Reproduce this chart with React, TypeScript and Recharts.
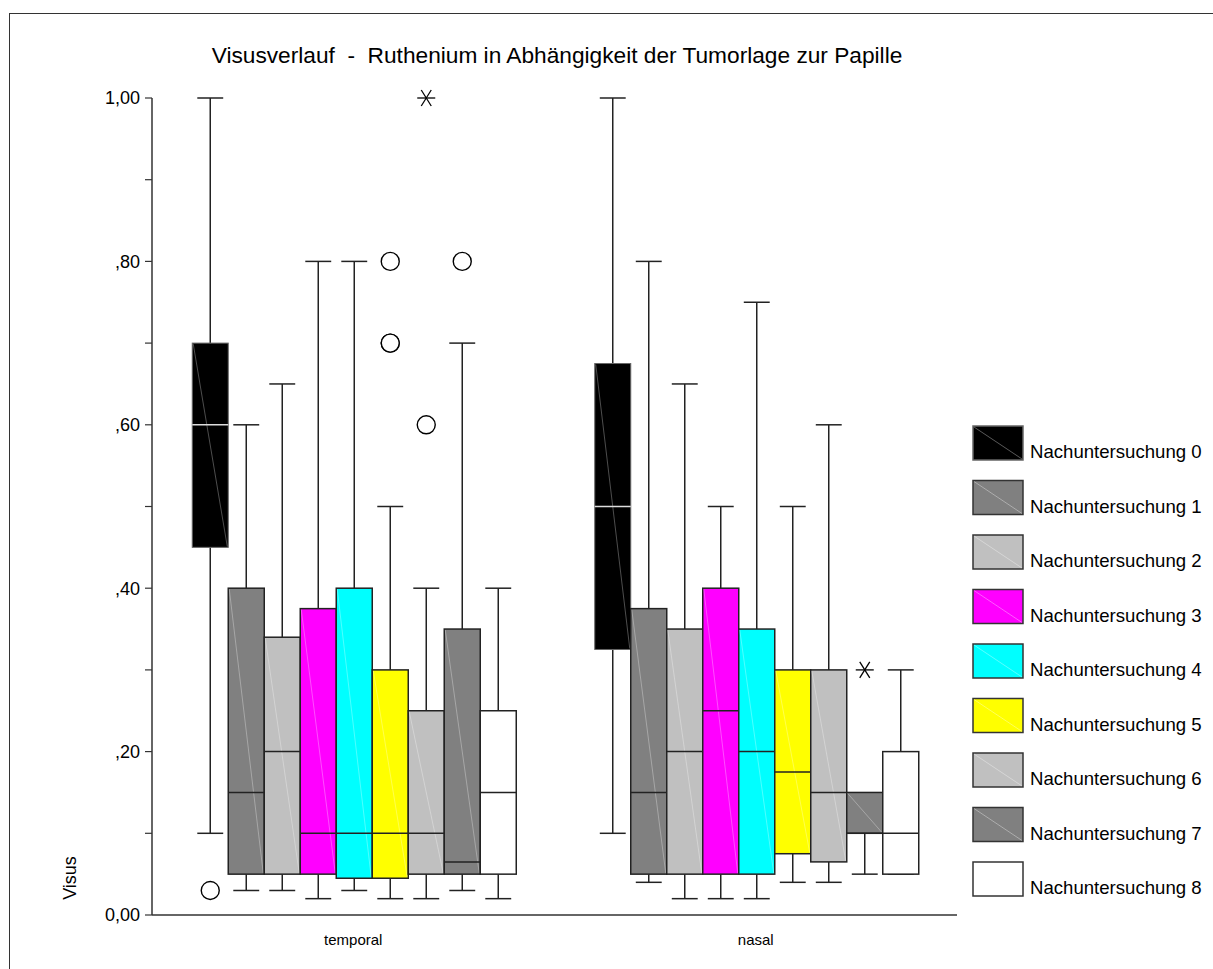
import { Bar, BarChart, Legend, XAxis, YAxis } from 'recharts'

const groups = ['temporal', 'nasal']

const seriesNames = [
	'Nachuntersuchung 0',
	'Nachuntersuchung 1',
	'Nachuntersuchung 2',
	'Nachuntersuchung 3',
	'Nachuntersuchung 4',
	'Nachuntersuchung 5',
	'Nachuntersuchung 6',
	'Nachuntersuchung 7',
	'Nachuntersuchung 8',
]

const seriesColors = [
	'#000000',
	'#808080',
	'#c0c0c0',
	'#ff00ff',
	'#00ffff',
	'#ffff00',
	'#c0c0c0',
	'#808080',
	'#ffffff',
]

// temporal
const tempLow = [0.1, 0.03, 0.03, 0.02, 0.03, 0.02, 0.02, 0.03, 0.02]
const tempQ1 = [0.45, 0.05, 0.05, 0.05, 0.045, 0.045, 0.05, 0.05, 0.05]
const tempMedian = [0.6, 0.15, 0.2, 0.1, 0.1, 0.1, 0.1, 0.065, 0.15]
const tempQ3 = [0.7, 0.4, 0.34, 0.375, 0.4, 0.3, 0.25, 0.35, 0.25]
const tempHigh = [1.0, 0.6, 0.65, 0.8, 0.8, 0.5, 0.4, 0.7, 0.4]
const tempOutliers = [[0.03], [], [], [], [], [0.8, 0.7, 0.7], [0.6], [0.8], []]
const tempExtremes = [[], [], [], [], [], [], [1.0], [], []]

// nasal
const nasLow = [0.1, 0.04, 0.02, 0.02, 0.02, 0.04, 0.04, 0.05, 0.05]
const nasQ1 = [0.325, 0.05, 0.05, 0.05, 0.05, 0.075, 0.065, 0.1, 0.05]
const nasMedian = [0.5, 0.15, 0.2, 0.25, 0.2, 0.175, 0.15, 0.1, 0.1]
const nasQ3 = [0.675, 0.375, 0.35, 0.4, 0.35, 0.3, 0.3, 0.15, 0.2]
const nasHigh = [1.0, 0.8, 0.65, 0.5, 0.75, 0.5, 0.6, 0.15, 0.3]
const nasOutliers = [[], [], [], [], [], [], [], [], []]
const nasExtremes = [[], [], [], [], [], [], [], [0.3], []]

const yTicks = [0, 0.1, 0.2, 0.3, 0.4, 0.5, 0.6, 0.7, 0.8, 0.9, 1]
const yTickLabels = ['0,00', '', ',20', '', ',40', '', ',60', '', ',80', '', '1,00']

const FONT = '"Liberation Sans", Arial, sans-serif'

const groupStats = [
	{ low: tempLow, q1: tempQ1, median: tempMedian, q3: tempQ3, high: tempHigh, outliers: tempOutliers, extremes: tempExtremes },
	{ low: nasLow, q1: nasQ1, median: nasMedian, q3: nasQ3, high: nasHigh, outliers: nasOutliers, extremes: nasExtremes },
]

const data = groups.map((group, gi) => {
	const g = groupStats[gi]
	return {
		group,
		stats: seriesNames.map((_, i) => ({
			low: g.low[i],
			q1: g.q1[i],
			median: g.median[i],
			q3: g.q3[i],
			high: g.high[i],
			outliers: g.outliers[i],
			extremes: g.extremes[i],
		})),
	}
})

const STROKE = '#222'

const BoxShape = (props: any) => {
	const { x, y, width, height, payload, series } = props
	const s = payload.stats[series]
	const top = Math.min(y, y + height)
	const h = Math.abs(height)
	const k = h / (s.q3 - s.q1)
	const py = (v: number) => top + (s.q3 - v) * k
	const cx = x + width / 2
	const cap = width * 0.36
	const color = seriesColors[series]
	const isBlack = series === 0
	return (
		<g>
			{s.high > s.q3 && (
				<>
					<line x1={cx} x2={cx} y1={py(s.high)} y2={top} stroke={STROKE} strokeWidth={1.5} />
					<line x1={cx - cap} x2={cx + cap} y1={py(s.high)} y2={py(s.high)} stroke={STROKE} strokeWidth={1.5} />
				</>
			)}
			<line x1={cx} x2={cx} y1={top + h} y2={py(s.low)} stroke={STROKE} strokeWidth={1.5} />
			<line x1={cx - cap} x2={cx + cap} y1={py(s.low)} y2={py(s.low)} stroke={STROKE} strokeWidth={1.5} />
			<rect
				x={x}
				y={top}
				width={width}
				height={h}
				fill={color}
				stroke={isBlack ? '#666' : STROKE}
				strokeWidth={isBlack ? 1 : 1.5}
			/>
			<line x1={x + 1} y1={top + 1} x2={x + width - 1} y2={top + h - 1} stroke="#fff" strokeOpacity={0.3} strokeWidth={1} />
			<line
				x1={x}
				x2={x + width}
				y1={py(s.median)}
				y2={py(s.median)}
				stroke={isBlack ? '#ddd' : STROKE}
				strokeWidth={1.5}
			/>
			{s.outliers.map((v: number, j: number) => (
				<circle key={`o${j}`} cx={cx} cy={py(v)} r={9} fill="#fff" stroke="#000" strokeWidth={1.4} />
			))}
			{s.extremes.map((v: number, j: number) => {
				const cy = py(v)
				return (
					<g key={`e${j}`} stroke="#000" strokeWidth={1.3}>
						<line x1={cx - 9} x2={cx + 9} y1={cy} y2={cy} />
						<line x1={cx - 5} x2={cx + 5} y1={cy - 8} y2={cy + 8} />
						<line x1={cx + 5} x2={cx - 5} y1={cy - 8} y2={cy + 8} />
					</g>
				)
			})}
		</g>
	)
}

const LegendContent = () => (
	<svg width={240} height={500}>
		{seriesNames.map((name, i) => {
			const top = 1 + i * 54.5
			return (
				<g key={name}>
					<rect x={1} y={top} width={50} height={34} fill={seriesColors[i]} stroke={i === 0 ? '#666' : '#333'} strokeWidth={1.5} />
					<line x1={2} y1={top + 1} x2={50} y2={top + 33} stroke="#fff" strokeOpacity={0.35} />
					<text x={58} y={top + 32} fontSize={18.6} fontFamily={FONT} fill="#000">
						{name}
					</text>
				</g>
			)
		})}
	</svg>
)

const VisusLabel = ({ viewBox }: any) => {
	const lx = viewBox.x - 22
	const ly = viewBox.y + viewBox.height - 37
	return (
		<text
			x={lx}
			y={ly}
			transform={`rotate(-90 ${lx} ${ly})`}
			textAnchor="middle"
			dominantBaseline="central"
			fontSize={18}
			fontFamily={FONT}
			fill="#000"
		>
			Visus
		</text>
	)
}

export default function App() {
	return (
		<div style={{ position: 'absolute', left: 0, top: 0, width: 1213, height: 969, background: '#fff', overflow: 'hidden' }}>
			<div
				style={{
					position: 'absolute',
					left: 9,
					top: 13,
					width: 1220,
					height: 980,
					border: '1.5px solid #333',
				}}
			/>
			<div
				style={{
					position: 'absolute',
					left: 0,
					width: 1114,
					top: 42,
					textAlign: 'center',
					fontFamily: FONT,
					fontSize: 22.7,
					color: '#000',
					whiteSpace: 'pre',
				}}
			>
				{'Visusverlauf  -  Ruthenium in Abhängigkeit der Tumorlage zur Papille'}
			</div>
			<BarChart
				width={1213}
				height={969}
				data={data}
				margin={{ top: 98, right: 256, bottom: 24, left: 92 }}
				barCategoryGap="10%"
				barGap={0}
				style={{ position: 'absolute', left: 0, top: 0 }}
			>
				<XAxis
					dataKey="group"
					height={30}
					axisLine={{ stroke: '#333', strokeWidth: 1.5 }}
					tickLine={false}
					tickMargin={13}
					tick={{ fontSize: 15, fill: '#000', fontFamily: FONT }}
				/>
				<YAxis
					width={60}
					domain={[0, 1]}
					ticks={yTicks}
					interval={0}
					tickFormatter={(_v: number, idx: number) => yTickLabels[idx]}
					axisLine={{ stroke: '#333', strokeWidth: 1.5 }}
					tickLine={{ stroke: '#333', strokeWidth: 1.2 }}
					tickSize={7}
					tickMargin={5}
					tick={{ fontSize: 18, fill: '#000', fontFamily: FONT }}
					label={<VisusLabel />}
				/>
				<Legend
					layout="vertical"
					align="center"
					verticalAlign="middle"
					content={<LegendContent />}
					wrapperStyle={{ position: 'absolute', left: 972, top: 425, width: 240, height: 500 }}
				/>
				{seriesNames.map((name, i) => (
					<Bar
						key={name}
						name={name}
						dataKey={(d: any) => [d.stats[i].q1, d.stats[i].q3]}
						fill={seriesColors[i]}
						isAnimationActive={false}
						shape={(p: any) => <BoxShape {...p} series={i} />}
					/>
				))}
			</BarChart>
		</div>
	)
}
